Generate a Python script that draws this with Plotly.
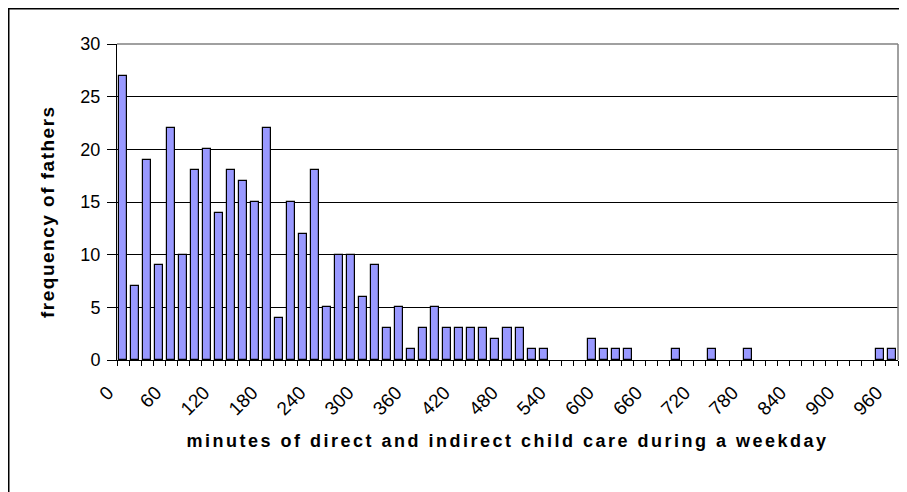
import plotly.graph_objects as go

# Data
minutes = [0, 15, 30, 45, 60, 75, 90, 105, 120, 135, 150, 165, 180, 195, 210, 225,
           240, 255, 270, 285, 300, 315, 330, 345, 360, 375, 390, 405, 420, 435, 450, 465,
           480, 495, 510, 525, 540, 555, 570, 585, 600, 615, 630, 645, 660, 675, 690, 705,
           720, 735, 750, 765, 780, 795, 810, 825, 840, 855, 870, 885, 900, 915, 930, 945, 960]
fathers = [27, 7, 19, 9, 22, 10, 18, 20, 14, 18, 17, 15, 22, 4, 15, 12,
           18, 5, 10, 10, 6, 9, 3, 5, 1, 3, 5, 3, 3, 3, 3, 2,
           3, 3, 1, 1, 0, 0, 0, 2, 1, 1, 1, 0, 0, 0, 1, 0,
           0, 1, 0, 0, 1, 0, 0, 0, 0, 0, 0, 0, 0, 0, 0, 1, 1]
x_tick_vals = [0, 60, 120, 180, 240, 300, 360, 420, 480, 540, 600, 660, 720, 780, 840, 900, 960]
x_tick_text = ["0", "60", "120", "180", "240", "300", "360", "420", "480", "540",
               "600", "660", "720", "780", "840", "900", "960"]
y_tick_vals = [0, 5, 10, 15, 20, 25, 30]

FONT = "Liberation Sans, Arial, sans-serif"
STEP = 15  # category width in minutes
# Excel-style category axis: tick marks sit on the category boundaries,
# labels belong to the category to the right of the boundary
boundaries = [m - STEP / 2 for m in minutes] + [minutes[-1] + STEP / 2]
label_of = dict(zip(x_tick_vals, x_tick_text))
boundary_text = [label_of.get(b + STEP / 2, "") for b in boundaries]
x_range = [boundaries[0], boundaries[-1]]

fig = go.Figure()
fig.add_trace(go.Bar(
    x=minutes, y=fathers, width=STEP * 2 / 3,
    marker=dict(color="#9999FF",
                line=dict(color="#000000", width=[1.2 if v > 0 else 0 for v in fathers])),
))

# page body has an 8px margin; figure geometry is set relative to it
W, H = 899, 484
L, R, T, B = 109, 9, 36, 132
pw, ph = W - L - R, H - T - B

def px_x(px):
    return (px - L) / pw

def px_y(py):
    return (H - B - py) / ph

fig.update_layout(
    width=W, height=H,
    margin=dict(l=L, r=R, t=T, b=B, autoexpand=False),
    paper_bgcolor="white", plot_bgcolor="white",
    showlegend=False,
    bargap=0,
    font=dict(family=FONT, size=17, color="#000000"),
    xaxis=dict(
        type="linear", range=x_range,
        tickmode="array", tickvals=boundaries, ticktext=boundary_text,
        ticks="outside", ticklen=5, tickcolor="#000000", tickwidth=1,
        tickangle=-45, ticklabelstandoff=8, ticklabelshift=-9,
        showgrid=False, zeroline=False,
        showline=True, linecolor="#000000", linewidth=1,
        tickfont=dict(family=FONT, size=19),
        title=dict(text='<span style="letter-spacing:2.5px">minutes of direct and indirect child care during a weekday</span>',
                   font=dict(family=FONT, size=18, weight="bold"), standoff=16),
        automargin=False,
    ),
    yaxis=dict(
        range=[0, 30], tickmode="array", tickvals=y_tick_vals,
        ticks="outside", ticklen=9, tickcolor="#000000", ticklabelstandoff=3,
        showgrid=True, gridcolor="#000000", gridwidth=1,
        zeroline=False,
        showline=True, linecolor="#000000", linewidth=1,
        tickfont=dict(family=FONT, size=18),
        automargin=False,
    ),
)

# y-axis title
fig.add_annotation(
    text='<span style="letter-spacing:1.5px">frequency of fathers</span>',
    xref="paper", yref="paper", x=px_x(40), y=px_y(204),
    xanchor="center", yanchor="middle", textangle=-90, showarrow=False,
    font=dict(family=FONT, size=19, weight="bold", color="#000000"),
)

# plot-area border (top and right in grey)
fig.add_shape(type="line", xref="paper", yref="paper", x0=0, x1=1, y0=1, y1=1,
              line=dict(color="#808080", width=1.5))
fig.add_shape(type="line", xref="paper", yref="paper", x0=1, x1=1, y0=0, y1=1,
              line=dict(color="#808080", width=1.5))
# outer chart border (left and top visible)
fig.add_shape(type="rect", xref="paper", yref="paper",
              x0=px_x(0.5), x1=px_x(W + 20), y0=px_y(H + 20), y1=px_y(0.5),
              line=dict(color="#000000", width=2), fillcolor="rgba(0,0,0,0)", layer="above")

fig.write_html("out.html")
